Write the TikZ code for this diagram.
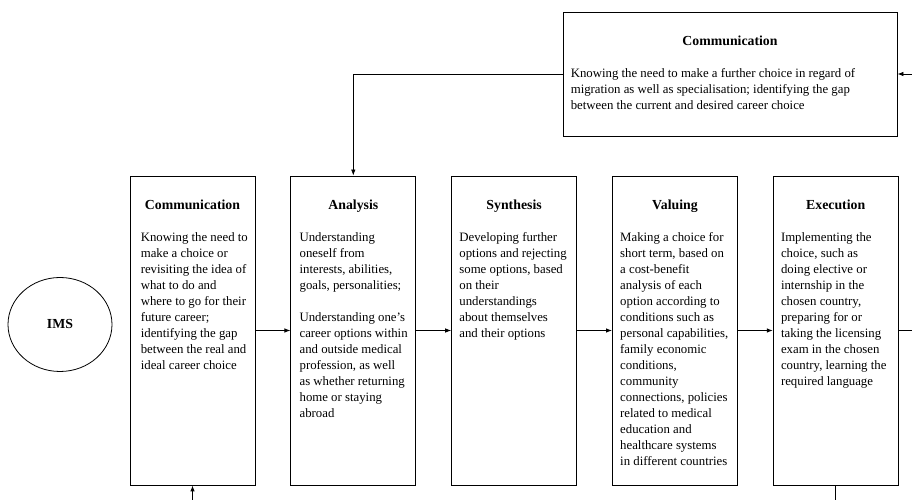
\documentclass[tikz,border=0pt]{standalone}
\usepackage{fontspec}
\setmainfont{Liberation Serif}
\usetikzlibrary{shapes, arrows, arrows.meta, positioning}

\tikzset{
  stage/.style={draw, line width=0.8pt, minimum width=125pt, minimum height=309pt, inner sep=0pt},
  heading/.style={font=\fontsize{13.8}{16}\selectfont\bfseries, inner sep=0pt},
  body/.style={font=\fontsize{12.8}{16}\selectfont, align=left, inner sep=0pt},
}

\begin{document}
\begin{tikzpicture}[x=1pt, y=1pt, node distance=35pt, >={Latex[length=6pt, width=4.5pt]}]
  \useasboundingbox (0,0) rectangle (912,500);

  % IMS
  \node (ims) [draw, ellipse, line width=0.8pt, minimum width=104pt, minimum height=94pt, heading] at (60,175.5) {IMS};

  %%%%%%%%%%%%%%%%%%
  \node (com) [stage] at (192.5,169.5) {};
  \node (ana) [stage, right=of com] {};
  \node (syn) [stage, right=of ana] {};
  \node (val) [stage, right=of syn] {};
  \node (exe) [stage, right=of val] {};

  \node (fb) [draw, line width=0.8pt, minimum width=334pt, minimum height=124pt] at (730,426) {};

  %%%%%%%%%%%%%%%%%%
  \node (comhead) [heading, below=24pt of com.north] {Communication};
  \node (anahead) [heading, below=24pt of ana.north] {Analysis};
  \node (synhead) [heading, below=24pt of syn.north] {Synthesis};
  \node (valhead) [heading, below=24pt of val.north] {Valuing};
  \node (exehead) [heading, below=24pt of exe.north] {Execution};
  \node (fbhead) [heading, below=24pt of fb.north] {Communication};

  %%%%%%%%%%%%%%%%%%
  \node (comtext) [body, below right=57pt and 11pt of com.north west] {Knowing the need to\\ make a choice or\\ revisiting the idea of\\ what to do and\\ where to go for their\\ future career;\\ identifying the gap\\ between the real and\\ ideal career choice};

  \node (anatext) [body, below right=57pt and 9pt of ana.north west] {Understanding\\ oneself from\\ interests, abilities,\\ goals, personalities;\\[16pt] Understanding one's\\ career options within\\ and outside medical\\ profession, as well\\ as whether returning\\ home or staying\\ abroad};

  \node (syntext) [body, below right=57pt and 8pt of syn.north west] {Developing further\\ options and rejecting\\ some options, based\\ on their\\ understandings\\ about themselves\\ and their options};

  \node (valtext) [body, below right=57pt and 8pt of val.north west] {Making a choice for\\ short term, based on\\ a cost-benefit\\ analysis of each\\ option according to\\ conditions such as\\ personal capabilities,\\ family economic\\ conditions,\\ community\\ connections, policies\\ related to medical\\ education and\\ healthcare systems\\ in different countries};

  \node (exetext) [body, below right=57pt and 8pt of exe.north west] {Implementing the\\ choice, such as\\ doing elective or\\ internship in the\\ chosen country,\\ preparing for or\\ taking the licensing\\ exam in the chosen\\ country, learning the\\ required language};

  \node (fbtext) [body, below right=57pt and 8pt of fb.north west] {Knowing the need to make a further choice in regard of\\ migration as well as specialisation; identifying the gap\\ between the current and desired career choice};

  %%%%%%%%%%%%%%%%%%
  \coordinate (bottom) at (0,0);
  \coordinate (fbin) at (912,426);
  \coordinate (exeout) at (912,169.5);
  \coordinate (comin) at (com.south |- bottom);
  \coordinate (exedown) at (exe.south |- bottom);

  %%%%%%%%%%%%%%%%%%
  \draw [->, line width=0.8] (com) to (ana);
  \draw [->, line width=0.8] (ana) to (syn);
  \draw [->, line width=0.8] (syn) to (val);
  \draw [->, line width=0.8] (val) to (exe);

  \draw [line width=0.8] (exe) to (exeout);
  \draw [line width=0.8] (exe) to (exedown);
  \draw [->, line width=0.8] (comin) to (com);

  \draw [->, line width=0.8] (fbin) to (fb);
  \draw [->, line width=0.8] (fb.west) -| (ana.north);

\end{tikzpicture}
\end{document}
